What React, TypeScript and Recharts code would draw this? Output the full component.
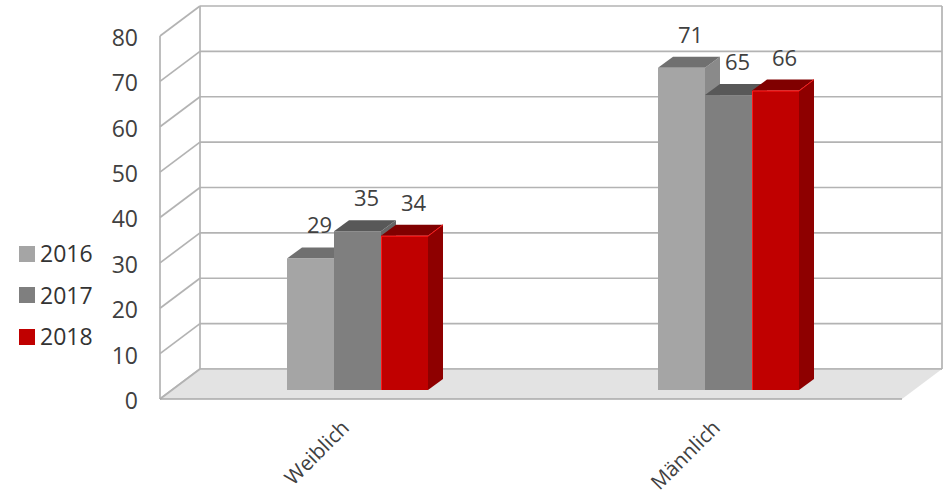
import React from 'react';
import { BarChart, Bar, XAxis, YAxis, CartesianGrid, LabelList, Legend, ReferenceArea } from 'recharts';

const categories = ['Weiblich', 'Männlich'];
const seriesNames = ['2016', '2017', '2018'];
const values2016 = [29, 71];
const values2017 = [35, 65];
const values2018 = [34, 66];
const yTicks = [0, 10, 20, 30, 40, 50, 60, 70, 80];

const data = categories.map((c, i) => ({
  category: c,
  '2016': values2016[i],
  '2017': values2017[i],
  '2018': values2018[i],
}));

const FONT = '"Open Sans", "Noto Sans", "DejaVu Sans", sans-serif';
const BACK = { dx: 28, dy: -21 };
const FRONT = { dx: -12, dy: 9 };
const DEPTH = { dx: 15, dy: -11 };
const GRID = '#b3b3b3';

type BarColors = { front: string; top: string; side: string; edge?: string };
const colors: Record<string, BarColors> = {
  '2016': { front: '#a5a5a5', top: '#707070', side: '#8a8a8a' },
  '2017': { front: '#7f7f7f', top: '#585858', side: '#666666' },
  '2018': { front: '#c00000', top: '#800000', side: '#8e0000', edge: '#ff1a1a' },
};

const make3DBar = (c: BarColors) => (props: any) => {
  const { x, y, width, height } = props;
  if (x == null || y == null || !width || height == null) return <g />;
  const { dx, dy } = DEPTH;
  return (
    <g>
      <polygon
        points={`${x + width},${y} ${x + width + dx},${y + dy} ${x + width + dx},${y + height + dy} ${x + width},${y + height}`}
        fill={c.side}
      />
      <polygon
        points={`${x},${y} ${x + dx},${y + dy} ${x + width + dx},${y + dy} ${x + width},${y}`}
        fill={c.top}
      />
      <rect x={x} y={y} width={width} height={height} fill={c.front} />
      {c.edge ? (
        <polyline
          points={`${x + 0.5},${y + height} ${x + 0.5},${y + 0.5} ${x + width},${y + 0.5} ${x + width + dx},${y + dy}`}
          fill="none"
          stroke={c.edge}
          strokeWidth={1}
        />
      ) : null}
    </g>
  );
};

const renderGridLine = (props: any) => {
  const { x1, y1, x2 } = props;
  if (x1 == null || y1 == null) return <g />;
  return (
    <g key={props.key}>
      <line x1={x1 + FRONT.dx} y1={y1 + FRONT.dy} x2={x1 + BACK.dx} y2={y1 + BACK.dy} stroke={GRID} strokeWidth={1.7} />
      <line x1={x1 + BACK.dx} y1={y1 + BACK.dy} x2={x2 + BACK.dx} y2={y1 + BACK.dy} stroke={GRID} strokeWidth={1.7} />
    </g>
  );
};

const WallsShape = (props: any) => {
  const { x, y, width, height } = props;
  if (x == null || y == null) return <g />;
  const bottom = y + height;
  const right = x + width;
  return (
    <g>
      <polygon
        points={`${x + FRONT.dx},${bottom + FRONT.dy} ${x + BACK.dx},${bottom + BACK.dy} ${right + BACK.dx},${bottom + BACK.dy} ${right + FRONT.dx},${bottom + FRONT.dy}`}
        fill="#e3e3e3"
      />
      <line x1={x + BACK.dx} y1={y + BACK.dy} x2={x + BACK.dx} y2={bottom + BACK.dy} stroke={GRID} strokeWidth={1.7} />
      <line x1={right + BACK.dx} y1={y + BACK.dy} x2={right + BACK.dx} y2={bottom + BACK.dy} stroke={GRID} strokeWidth={1.7} />
      <line x1={x + FRONT.dx} y1={y + FRONT.dy} x2={x + FRONT.dx} y2={bottom + FRONT.dy} stroke={GRID} strokeWidth={1.7} />
      <line x1={x + FRONT.dx} y1={bottom + FRONT.dy} x2={x + BACK.dx} y2={bottom + BACK.dy} stroke={GRID} strokeWidth={1.7} />
      <line x1={x + BACK.dx} y1={bottom + BACK.dy} x2={right + BACK.dx} y2={bottom + BACK.dy} stroke={GRID} strokeWidth={1.7} />
      <line x1={x + FRONT.dx} y1={bottom + FRONT.dy} x2={right + FRONT.dx} y2={bottom + FRONT.dy} stroke="#a8a8a8" strokeWidth={1.7} />
    </g>
  );
};

const renderYTick = (props: any) => {
  const { x, y, payload } = props;
  return (
    <text x={x - 34} y={y + 18.9} textAnchor="end" fontSize={23} fill="#404040" fontFamily={FONT}>
      {payload.value}
    </text>
  );
};

const renderXTick = (props: any) => {
  const { x, y, payload } = props;
  return (
    <g transform={`translate(${x - 7},${y + 39})`}>
      <text x={0} y={0} textAnchor="end" transform="rotate(-45)" fontSize={20.5} fill="#404040" fontFamily={FONT}>
        {payload.value}
      </text>
    </g>
  );
};

const renderValueLabel = (props: any) => {
  const vb = props.viewBox && props.viewBox.width != null ? props.viewBox : props;
  const { x, y, width } = vb;
  if (x == null || y == null) return <g />;
  return (
    <text x={x + width / 2 + 9} y={y - 25} textAnchor="middle" fontSize={22} fill="#404040" fontFamily={FONT}>
      {props.value}
    </text>
  );
};

const renderLegend = (props: any) => {
  const payload = props.payload || [];
  return (
    <div style={{ fontFamily: FONT }}>
      {payload.map((e: any) => (
        <div key={e.value} style={{ display: 'flex', alignItems: 'center', height: 41.5 }}>
          <span style={{ display: 'inline-block', width: 16, height: 16, background: e.color, marginRight: 5 }} />
          <span style={{ fontSize: 23, color: '#333333', lineHeight: 1 }}>{e.value}</span>
        </div>
      ))}
    </div>
  );
};

export default function App() {
  return (
    <div style={{ position: 'absolute', left: 0, top: 0, background: '#ffffff' }}>
      <BarChart
        width={948}
        height={496}
        data={data}
        margin={{ top: 27, right: 34, left: 112, bottom: 6 }}
        barGap={0}
        barSize={47}
      >
        <CartesianGrid vertical={false} horizontal={renderGridLine} />
        <ReferenceArea y1={0} y2={80} shape={<WallsShape />} ifOverflow="visible" />
        <XAxis dataKey="category" axisLine={false} tickLine={false} tickSize={0} tickMargin={0} height={100} tick={renderXTick} interval={0} />
        <YAxis
          domain={[0, 80]}
          ticks={yTicks}
          axisLine={false}
          tickLine={false}
          tickSize={0}
          tickMargin={0}
          width={60}
          tick={renderYTick}
          interval={0}
        />
        <Legend
          layout="vertical"
          align="center"
          verticalAlign="middle"
          content={renderLegend}
          wrapperStyle={{ left: 19, top: 233, width: 120 }}
        />
        {seriesNames.map((s) => (
          <Bar key={s} dataKey={s} name={s} fill={colors[s].front} shape={make3DBar(colors[s])} isAnimationActive={false}>
            <LabelList dataKey={s} content={renderValueLabel} />
          </Bar>
        ))}
      </BarChart>
    </div>
  );
}
